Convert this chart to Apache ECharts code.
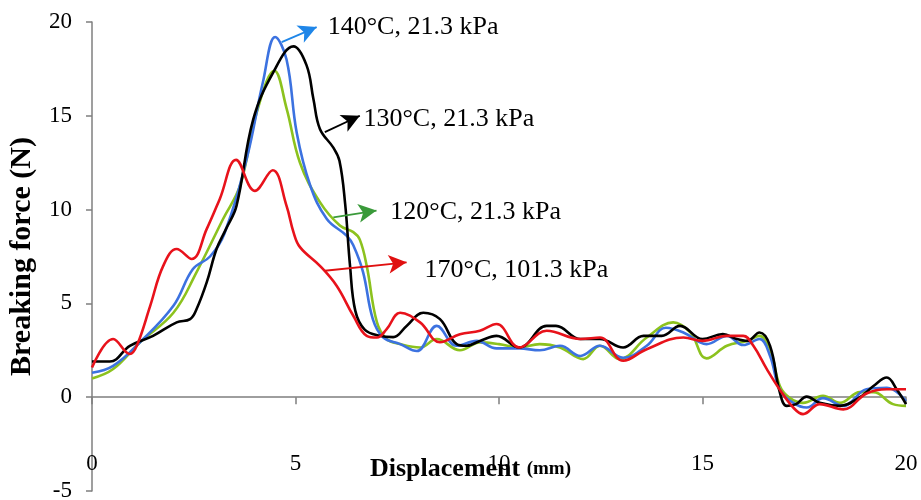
<!DOCTYPE html>
<html>
<head>
<meta charset="utf-8">
<script src="https://cdn.jsdelivr.net/npm/echarts@6/dist/echarts.min.js"></script>
<style>
  html, body { margin: 0; padding: 0; background: #fff; }
  #chart { width: 921px; height: 500px; }
</style>
</head>
<body>
<div id="chart"></div>
<script>
// 横轴刻度 / 纵轴刻度
var xTicks = [0, 5, 10, 15, 20];
var yTicks = [-5, 0, 5, 10, 15, 20];

// 120°C, 21.3 kPa (green)
var greenX = [0, 0.52, 1.18, 2.0, 2.57, 3.22, 3.64, 4.05, 4.48, 4.78, 5.11, 5.6, 6.09, 6.42, 6.58, 6.75, 7.0, 7.24, 7.57, 8.06, 8.47, 9.04, 9.53, 10.0, 10.5, 11.0, 11.5, 12.07, 12.48, 12.96, 13.63, 14.28, 14.7, 15.1, 15.6, 16.09, 16.4, 16.66, 16.9, 17.15, 17.47, 17.96, 18.38, 18.87, 19.2, 19.68, 20];
var greenY = [1.0, 1.5, 2.93, 4.5, 6.67, 9.5, 11.3, 15.2, 17.4, 15.4, 12.5, 10.4, 9.15, 8.8, 8.4, 7.0, 4.0, 3.1, 2.83, 2.65, 3.1, 2.5, 2.92, 2.83, 2.65, 2.83, 2.65, 2.03, 2.74, 2.03, 3.18, 3.99, 3.45, 2.07, 2.74, 3.0, 3.27, 2.56, 0.6, -0.05, -0.3, 0.07, -0.3, 0.27, 0.27, -0.37, -0.46];

// 140°C, 21.3 kPa (blue)
var blueX = [0, 0.52, 1.18, 2.0, 2.48, 2.9, 3.25, 3.8, 4.2, 4.5, 4.78, 5.03, 5.36, 5.77, 6.26, 6.42, 6.66, 6.9, 7.15, 7.57, 7.98, 8.47, 8.96, 9.45, 9.94, 10.5, 11.0, 11.5, 12.0, 12.48, 13.05, 13.63, 14.1, 14.53, 15.1, 15.6, 16.0, 16.4, 16.66, 16.9, 17.23, 17.56, 17.96, 18.46, 19.03, 19.53, 20];
var blueY = [1.3, 1.67, 2.93, 4.87, 6.83, 7.5, 8.7, 12.7, 16.8, 19.2, 18.0, 14.1, 11.3, 9.5, 8.6, 8.1, 6.67, 4.16, 3.2, 2.83, 2.46, 3.8, 2.74, 3.0, 2.6, 2.6, 2.5, 2.74, 2.2, 2.74, 2.1, 2.74, 3.7, 3.45, 2.83, 3.27, 2.78, 3.1, 2.2, 0.4, -0.3, -0.55, -0.05, -0.46, 0.42, 0.5, -0.2];

// 130°C, 21.3 kPa (black)
var blackX = [0, 0.44, 0.93, 1.5, 2.08, 2.41, 2.57, 2.82, 3.06, 3.3, 3.55, 3.96, 4.45, 4.95, 5.27, 5.44, 5.6, 5.93, 6.08, 6.22, 6.34, 6.47, 6.7, 7.07, 7.4, 7.73, 8.14, 8.55, 8.96, 9.2, 9.53, 9.94, 10.5, 11.17, 11.4, 12.0, 12.48, 13.05, 13.55, 14.0, 14.45, 15.0, 15.5, 15.84, 16.1, 16.4, 16.66, 16.9, 17.07, 17.3, 17.56, 17.88, 18.38, 18.87, 19.2, 19.53, 19.77, 20];
var blackY = [1.9, 1.9, 2.74, 3.27, 3.99, 4.16, 4.7, 6.13, 7.9, 9.0, 10.2, 14.8, 17.3, 18.7, 17.7, 15.9, 14.3, 13.3, 12.6, 10.3, 7.0, 4.6, 3.6, 3.27, 3.2, 3.8, 4.5, 4.16, 2.83, 2.74, 3.0, 3.27, 2.65, 3.8, 3.8, 3.1, 3.1, 2.65, 3.27, 3.27, 3.8, 3.1, 3.36, 3.1, 3.0, 3.45, 2.74, 0.25, -0.46, -0.37, 0.03, -0.3, -0.46, 0.0, 0.6, 1.05, 0.42, -0.37];

// 170°C, 101.3 kPa (red)
var redX = [0, 0.52, 0.93, 1.1, 1.43, 1.75, 2.08, 2.45, 2.82, 3.14, 3.54, 4.0, 4.44, 4.78, 4.95, 5.11, 5.6, 6.01, 6.42, 6.75, 7.0, 7.24, 7.57, 8.06, 8.55, 9.04, 9.53, 9.94, 10.5, 11.17, 12.0, 12.48, 13.05, 13.63, 14.53, 15.0, 15.6, 16.0, 16.25, 16.58, 16.9, 17.23, 17.47, 17.88, 18.46, 19.03, 19.53, 20];
var redY = [1.58, 3.1, 2.3, 2.74, 4.87, 7.0, 7.9, 7.37, 8.97, 10.57, 12.65, 11.0, 12.1, 10.2, 8.8, 8.0, 7.0, 5.94, 4.34, 3.27, 3.18, 3.63, 4.5, 3.99, 2.93, 3.36, 3.54, 3.9, 2.65, 3.54, 3.1, 3.18, 1.94, 2.56, 3.18, 3.0, 3.27, 3.27, 2.74, 1.5, 0.4, -0.55, -0.9, -0.37, -0.65, 0.2, 0.42, 0.42];

// 标注箭头：起点、终点
var greenArrow = [[5.93, 9.59], [6.99, 9.95]];
var blueArrow = [[4.66, 18.93], [5.52, 19.73]];
var blackArrow = [[5.72, 14.13], [6.58, 15.0]];
var redArrow = [[5.72, 6.74], [7.73, 7.19]];

var FONT = '"Liberation Serif", "Times New Roman", serif';

function zip(xs, ys) {
  return xs.map(function (x, i) { return [x, ys[i]]; });
}

function makeSeries(name, xs, ys, color, arrow, arrowColor, labelDist, labelDy) {
  return {
    name: name,
    type: 'line',
    data: zip(xs, ys),
    smooth: 0.4,
    showSymbol: false,
    symbol: 'none',
    lineStyle: { color: color, width: 2.6 },
    z: 2,
    markLine: {
      silent: true,
      animation: false,
      symbol: ['none', 'arrow'],
      symbolSize: [14, 18],
      lineStyle: { color: arrowColor, width: 1.8, type: 'solid' },
      label: {
        show: true,
        position: 'end',
        distance: labelDist,
        offset: [0, labelDy],
        formatter: name,
        color: '#000',
        fontFamily: FONT,
        fontSize: 26
      },
      data: [[{ coord: arrow[0] }, { coord: arrow[1] }]]
    }
  };
}

var chart = echarts.init(document.getElementById('chart'));
chart.setOption({
  animation: false,
  backgroundColor: '#fff',
  // 横轴标题（放在 0 线下方，跟原图一致）
  title: {
    text: '{b|Displacement }{s|(mm)}',
    left: 370,
    top: 456,
    padding: 0,
    textStyle: {
      rich: {
        b: { fontFamily: FONT, fontWeight: 'bold', fontSize: 26, color: '#000' },
        s: { fontFamily: FONT, fontWeight: 'bold', fontSize: 19, color: '#000' }
      }
    }
  },
  grid: { left: 92, right: 15, top: 22, bottom: 9, containLabel: false, outerBoundsMode: 'none' },
  xAxis: {
    type: 'value',
    min: 0,
    max: 20,
    interval: 5,
    axisLine: { onZero: true, lineStyle: { color: '#7f7f7f', width: 1.5 } },
    axisTick: { show: true, length: 7, lineStyle: { color: '#7f7f7f', width: 1.5 } },
    axisLabel: {
      margin: -39,
      color: '#000',
      fontFamily: FONT,
      fontSize: 23,
      formatter: function (v) { return xTicks.indexOf(v) >= 0 ? String(v) : ''; }
    },
    splitLine: { show: false }
  },
  yAxis: {
    type: 'value',
    min: -5,
    max: 20,
    interval: 5,
    name: 'Breaking force (N)',
    nameLocation: 'middle',
    nameGap: 55,
    nameTextStyle: { fontFamily: FONT, fontWeight: 'bold', fontSize: 30, color: '#000' },
    axisLine: { show: true, lineStyle: { color: '#7f7f7f', width: 1.5 } },
    axisTick: { show: true, length: 6, lineStyle: { color: '#7f7f7f', width: 1.5 } },
    axisLabel: {
      margin: 20,
      color: '#000',
      fontFamily: FONT,
      fontSize: 23,
      formatter: function (v) { return yTicks.indexOf(v) >= 0 ? String(v) : ''; }
    },
    splitLine: { show: false }
  },
  series: [
    makeSeries('120°C, 21.3 kPa', greenX, greenY, '#8cc21e', greenArrow, '#3a9a3a', 14, 4),
    makeSeries('140°C, 21.3 kPa', blueX, blueY, '#3c72e0', blueArrow, '#1f86e8', 12, 5),
    makeSeries('130°C, 21.3 kPa', blackX, blackY, '#000000', blackArrow, '#000000', 4, 5),
    makeSeries('170°C, 101.3 kPa', redX, redY, '#e8121b', redArrow, '#e01010', 18, 10)
  ]
});
</script>
</body>
</html>
